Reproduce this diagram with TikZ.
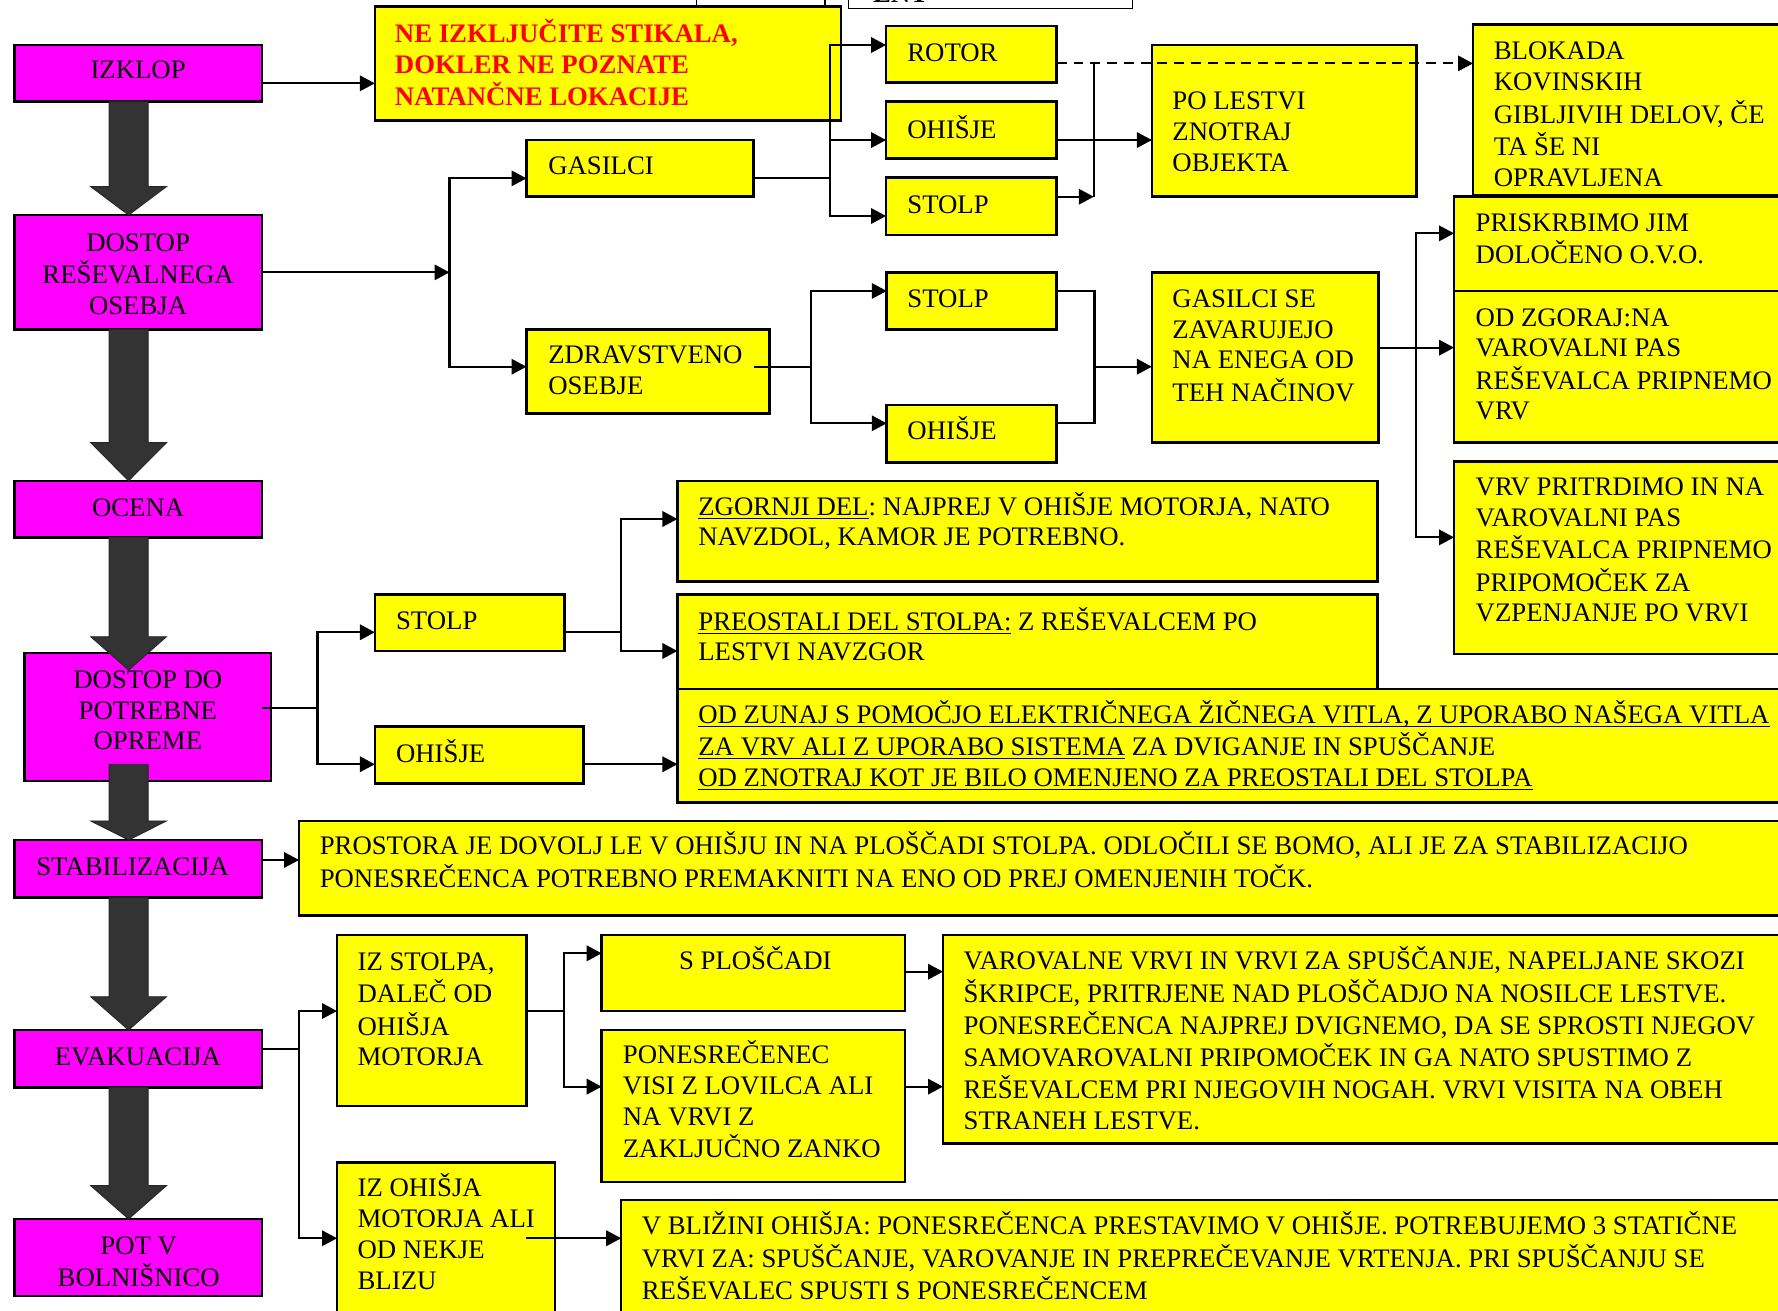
\documentclass[tikz,border=0pt]{standalone}
\usepackage{fontspec}
\setmainfont{Liberation Serif}
\usetikzlibrary{fit,arrows.meta}

\definecolor{boxyellow}{HTML}{FFFF00}
\definecolor{boxmagenta}{HTML}{FF00FF}
\definecolor{warnred}{HTML}{FF0000}
\definecolor{shaftgray}{HTML}{333333}

\newcommand\bodyfont{\fontsize{11.8}{13.6}\selectfont\frenchspacing}
\newcommand\lines[1]{\begin{tabular}[t]{@{}l@{}}#1\end{tabular}}
\newcommand\clines[1]{\begin{tabular}[t]{@{}c@{}}#1\end{tabular}}
% underlined run of text with a fixed rule position
\newcommand\uln[1]{\setbox0\hbox{#1}\rlap{\rule[-1.7pt]{\wd0}{0.6pt}}\box0\relax}
% thick grey step arrow between the main stages: #1 shaft top, #2 head start, #3 tip
\newcommand\flowarrow[3]{%
  \filldraw[flow] (96.2,#1) -- (130.6,#1) -- (130.6,#2) -- (146.8,#2)
    -- (113.4,#3) -- (80,#2) -- (96.2,#2) -- cycle;}

\tikzset{
  box/.style={draw=black, line width=1.1pt, inner sep=0pt, outer sep=0pt},
  ybox/.style={box, fill=boxyellow},
  mbox/.style={box, fill=boxmagenta},
  thinbox/.style={draw=black, line width=0.6pt, fill=white, inner sep=0pt, outer sep=0pt},
  ttl/.style={anchor=base west, inner sep=0pt, outer sep=0pt, font=\bodyfont},
  ctl/.style={anchor=base, inner sep=0pt, outer sep=0pt, font=\bodyfont},
  wire/.style={line width=0.9pt, draw=black},
  arr/.style={wire, -{Triangle[length=6.6pt,width=6.8pt]}},
  dasharr/.style={arr, dash pattern=on 4.4pt off 3pt},
  flow/.style={fill=shaftgray, draw=black!85, line width=0.4pt, line join=miter},
}

\begin{document}
\begin{tikzpicture}[x=0.5pt, y=-0.5pt]
\useasboundingbox (0,0) rectangle (1568,1156);
\clip (0,0) rectangle (1568,1156);
\fill[white] (0,0) rectangle (1568,1156);

% boxes running off the top edge
\node[thinbox, fit={(614.5,-40) (727.6,6.5)}] (topa) {};
\node[thinbox, fit={(748.5,-40) (998.6,7.3)}] (topb) {};
\node[ttl, font=\bodyfont\bfseries] (topb-t) at (770,2) {ENT};

% main stages
\node[mbox, fit={(12.7,39.7) (230.9,89.7)}] (izklop) {};
\node[mbox, fit={(12.7,189.6) (230.9,290.4)}] (dostop) {};
\node[mbox, fit={(12.7,424) (230.9,474)}] (ocena) {};
\node[mbox, fit={(21.8,576) (239,688.8)}] (opreme) {};
\node[mbox, fit={(12.7,740.8) (230.9,791.7)}] (stab) {};
\node[mbox, fit={(12.7,908.4) (230.9,958.9)}] (evak) {};
\node[mbox, fit={(12.7,1075) (230.9,1142.7)}] (pot) {};

\node[ctl] (izklop-t) at (121.8,69) {IZKLOP};
\node[ctl] (dostop-t) at (121.8,221.4) {\clines{DOSTOP\\REŠEVALNEGA\\OSEBJA}};
\node[ctl] (ocena-t) at (121.8,455.7) {OCENA};
\node[ctl] (opreme-t) at (130.4,607) {\clines{DOSTOP DO\\POTREBNE\\OPREME}};
\node[ctl] (stab-t) at (117,771.7) {STABILIZACIJA};
\node[ctl] (evak-t) at (121.6,939.8) {EVAKUACIJA};
\node[ctl] (pot-t) at (122.3,1105.9) {\clines{POT V\\BOLNIŠNICO}};

% yellow boxes
\node[ybox, fit={(330.6,5.9) (741.7,106.4)}] (warn) {};
\node[ybox, fit={(464.3,123.5) (664.7,173.5)}] (gasilci) {};
\node[ybox, fit={(464.3,290.4) (678.4,364.5)}] (zdrav) {};
\node[ybox, fit={(781.4,22.9) (931.9,72.9)}] (rotor) {};
\node[ybox, fit={(781.4,89.7) (931.9,139.6)}] (ohisje1) {};
\node[ybox, fit={(781.4,156.4) (931.9,207.2)}] (stolp1) {};
\node[ybox, fit={(1015.8,39.7) (1249,173.5)}] (lestvi) {};
\node[ybox, fit={(1299,21.5) (1600,172)}] (blokada) {};
\node[ybox, fit={(1282.3,173.5) (1600,256.6)}] (ovo) {};
\node[ybox, fit={(1282.3,256.6) (1600,390.4)}] (zgoraj) {};
\node[ybox, fit={(1282.3,407.1) (1600,576.8)}] (pritrdimo) {};
\node[ybox, fit={(782,240.2) (931.7,290.4)}] (stolp2) {};
\node[ybox, fit={(782,357.2) (931.7,407.7)}] (ohisje2) {};
\node[ybox, fit={(1015.8,240.2) (1215.6,390.4)}] (zavar) {};
\node[ybox, fit={(597.4,424) (1215,513)}] (zgornji) {};
\node[ybox, fit={(597.4,524.1) (1215,607.4)}] (preostali) {};
\node[ybox, fit={(597.4,607.4) (1600,707.6)}] (zunaj) {};
\node[ybox, fit={(330.6,524.1) (497.7,574)}] (stolp3) {};
\node[ybox, fit={(330.6,640.9) (514.4,691.1)}] (ohisje3) {};
\node[ybox, fit={(263.7,724) (1600,807.5)}] (prostor) {};
\node[ybox, fit={(297.2,824.6) (464.3,975.4)}] (izstolpa) {};
\node[ybox, fit={(530.6,824.6) (798.1,891.6)}] (plosca) {};
\node[ybox, fit={(530.6,908.4) (798.1,1042.2)}] (visi) {};
\node[ybox, fit={(831.6,824.6) (1600,1008.3)}] (varvrvi) {};
\node[ybox, fit={(297.2,1025) (489.6,1200)}] (izohisja) {};
\node[ybox, fit={(547.8,1058.3) (1600,1200)}] (blizina) {};

% box texts
\node[ttl, font=\bodyfont\bfseries, text=warnred] (warn-t) at (348.3,37.6)
  {\lines{NE IZKLJUČITE STIKALA,\\DOKLER NE POZNATE\\NATANČNE LOKACIJE}};
\node[ttl] (gasilci-t) at (483.5,154.3) {GASILCI};
\node[ttl] (zdrav-t) at (483.5,320.4) {\lines{ZDRAVSTVENO\\OSEBJE}};
\node[ttl] (rotor-t) at (800.2,54.4) {ROTOR};
\node[ttl] (ohisje1-t) at (800.2,122) {OHIŠJE};
\node[ttl] (stolp1-t) at (800.2,188.1) {STOLP};
\node[ttl] (lestvi-t) at (1034,97) {\lines{PO LESTVI\\ZNOTRAJ\\OBJEKTA}};
\node[ttl] (blokada-t) at (1317.4,52.9)
  {\lines{BLOKADA\\KOVINSKIH\\GIBLJIVIH DELOV, ČE\\TA ŠE NI\\OPRAVLJENA}};
\node[ttl] (ovo-t) at (1301.4,204.3) {\lines{PRISKRBIMO JIM\\DOLOČENO O.V.O.}};
\node[ttl] (zgoraj-t) at (1301.4,287.5)
  {\lines{OD ZGORAJ:NA\\VAROVALNI PAS\\REŠEVALCA PRIPNEMO\\VRV}};
\node[ttl] (pritrdimo-t) at (1301.4,437.2)
  {\lines{VRV PRITRDIMO IN NA\\VAROVALNI PAS\\REŠEVALCA PRIPNEMO\\PRIPOMOČEK ZA\\VZPENJANJE PO VRVI}};
\node[ttl] (stolp2-t) at (800.3,271) {STOLP};
\node[ttl] (ohisje2-t) at (800.3,388) {OHIŠJE};
\node[ttl] (zavar-t) at (1034,271)
  {\lines{GASILCI SE\\ZAVARUJEJO\\NA ENEGA OD\\TEH NAČINOV}};
\node[ttl] (zgornji-t) at (615.9,454.2)
  {\lines{\uln{ZGORNJI DEL}: NAJPREJ V OHIŠJE MOTORJA, NATO\\NAVZDOL, KAMOR JE POTREBNO.}};
\node[ttl] (preostali-t) at (615.9,555.6)
  {\lines{\uln{PREOSTALI DEL STOLPA:} Z REŠEVALCEM PO\\LESTVI NAVZGOR}};
\node[ttl] (zunaj-t) at (615.9,637.9)
  {\lines{\uln{OD ZUNAJ S POMOČJO ELEKTRIČNEGA ŽIČNEGA VITLA, Z UPORABO NAŠEGA VITLA}\\
   \uln{ZA VRV ALI Z UPORABO SISTEMA} ZA DVIGANJE IN SPUŠČANJE\\
   \uln{OD ZNOTRAJ KOT JE BILO OMENJENO ZA PREOSTALI DEL STOLPA}}};
\node[ttl] (stolp3-t) at (349.3,555) {STOLP};
\node[ttl] (ohisje3-t) at (349.3,672.3) {OHIŠJE};
\node[ttl] (prostor-t) at (282,754)
  {\lines{PROSTORA JE DOVOLJ LE V OHIŠJU IN NA PLOŠČADI STOLPA. ODLOČILI SE BOMO, ALI JE ZA STABILIZACIJO\\
   PONESREČENCA POTREBNO PREMAKNITI NA ENO OD PREJ OMENJENIH TOČK.}};
\node[ttl] (izstolpa-t) at (315.4,856) {\lines{IZ STOLPA,\\DALEČ OD\\OHIŠJA\\MOTORJA}};
\node[ttl] (plosca-t) at (598.9,855.4) {S PLOŠČADI};
\node[ttl] (visi-t) at (549.3,938.3)
  {\lines{PONESREČENEC\\VISI Z LOVILCA ALI\\NA VRVI Z\\ZAKLJUČNO ZANKO}};
\node[ttl] (varvrvi-t) at (849.8,855.4)
  {\lines{VAROVALNE VRVI IN VRVI ZA SPUŠČANJE, NAPELJANE SKOZI\\
   ŠKRIPCE, PRITRJENE NAD PLOŠČADJO NA NOSILCE LESTVE.\\
   PONESREČENCA NAJPREJ DVIGNEMO, DA SE SPROSTI NJEGOV\\
   SAMOVAROVALNI PRIPOMOČEK IN GA NATO SPUSTIMO Z\\
   REŠEVALCEM PRI NJEGOVIH NOGAH. VRVI VISITA NA OBEH\\
   STRANEH LESTVE.}};
\node[ttl] (izohisja-t) at (315.4,1055.3) {\lines{IZ OHIŠJA\\MOTORJA ALI\\OD NEKJE\\BLIZU}};
\node[ttl] (blizina-t) at (566,1089.1)
  {\lines{V BLIŽINI OHIŠJA: PONESREČENCA PRESTAVIMO V OHIŠJE. POTREBUJEMO 3 STATIČNE\\
   VRVI ZA: SPUŠČANJE, VAROVANJE IN PREPREČEVANJE VRTENJA. PRI SPUŠČANJU SE\\
   REŠEVALEC SPUSTI S PONESREČENCEM}};

% step arrows between the stages
\flowarrow{89.7}{164.6}{189.6}
\flowarrow{290.4}{390.4}{424}
\flowarrow{474}{561.5}{590.9}
\flowarrow{674}{724}{740.8}
\flowarrow{791.7}{879}{908.4}
\flowarrow{958.9}{1045.6}{1075}

% junction points of the branching lines
\coordinate (busA) at (396.4,240.2);
\coordinate (busB) at (731.6,157.3);
\coordinate (busC) at (964.6,55.9);
\coordinate (zdrav-out) at (664.7,323.4);
\coordinate (busD) at (714.9,323.4);
\coordinate (busE) at (965.2,323.4);
\coordinate (busF) at (1249,306.6);
\coordinate (opreme-out) at (230.9,624.1);
\coordinate (busG) at (280,624.1);
\coordinate (busH) at (547.8,557.6);
\coordinate (busI) at (263.3,924.8);
\coordinate (busJ) at (497.2,891.6);
\coordinate (izohisja-out) at (464.3,1092);

% connectors
\draw[arr] (izklop.east |- 0,73.5) -- (warn.west |- 0,73.5);

\draw[arr] (dostop.east |- busA) -- (busA);
\draw[arr] (busA) |- (gasilci.west |- 0,157.3);
\draw[arr] (busA) |- (zdrav.west |- 0,323.4);

\draw[wire] (gasilci.east |- busB) -- (busB);
\draw[arr] (busB) |- (rotor.west |- 0,39.7);
\draw[arr] (busB) |- (ohisje1.west |- 0,123.5);
\draw[arr] (busB) |- (stolp1.west |- 0,190.5);

\draw[dasharr] (rotor.east |- busC) -- (blokada.west |- busC);
\draw[wire] (busC) -- (busC |- 0,173.5);
\draw[arr] (stolp1.east |- 0,173.5) -- (busC |- 0,173.5);
\draw[arr] (ohisje1.east |- 0,123.5) -- (lestvi.west |- 0,123.5);

\draw[wire] (zdrav-out) -- (busD);
\draw[arr] (busD) |- (stolp2.west |- 0,256.6);
\draw[arr] (busD) |- (ohisje2.west |- 0,373.3);

\draw[wire] (stolp2.east |- 0,256.6) -| (busE) |- (ohisje2.east |- 0,373.3);
\draw[arr] (busE) -- (zavar.west |- busE);

\draw[arr] (zavar.east |- busF) -- (zgoraj.west |- busF);
\draw[arr] (busF) |- (ovo.west |- 0,205.8);
\draw[arr] (busF) |- (pritrdimo.west |- 0,473.9);

\draw[wire] (opreme-out) -- (busG);
\draw[arr] (busG) |- (stolp3.west |- 0,557.6);
\draw[arr] (busG) |- (ohisje3.west |- 0,674);

\draw[wire] (stolp3.east |- busH) -- (busH);
\draw[arr] (busH) |- (zgornji.west |- 0,457.7);
\draw[arr] (busH) |- (preostali.west |- 0,574.1);
\draw[arr] (ohisje3.east |- 0,674) -- (zunaj.west |- 0,674);

\draw[arr] (stab.east |- 0,758.4) -- (prostor.west |- 0,758.4);

\draw[wire] (evak.east |- busI) -- (busI);
\draw[arr] (busI) |- (izstolpa.west |- 0,891.6);
\draw[arr] (busI) |- (izohisja.west |- 0,1092);

\draw[wire] (izstolpa.east |- busJ) -- (busJ);
\draw[arr] (busJ) |- (plosca.west |- 0,840.7);
\draw[arr] (busJ) |- (visi.west |- 0,958.3);
\draw[arr] (plosca.east |- 0,856.9) -- (varvrvi.west |- 0,856.9);
\draw[arr] (visi.east |- 0,958.3) -- (varvrvi.west |- 0,958.3);
\draw[arr] (izohisja-out) -- (blizina.west |- izohisja-out);
\end{tikzpicture}
\end{document}
